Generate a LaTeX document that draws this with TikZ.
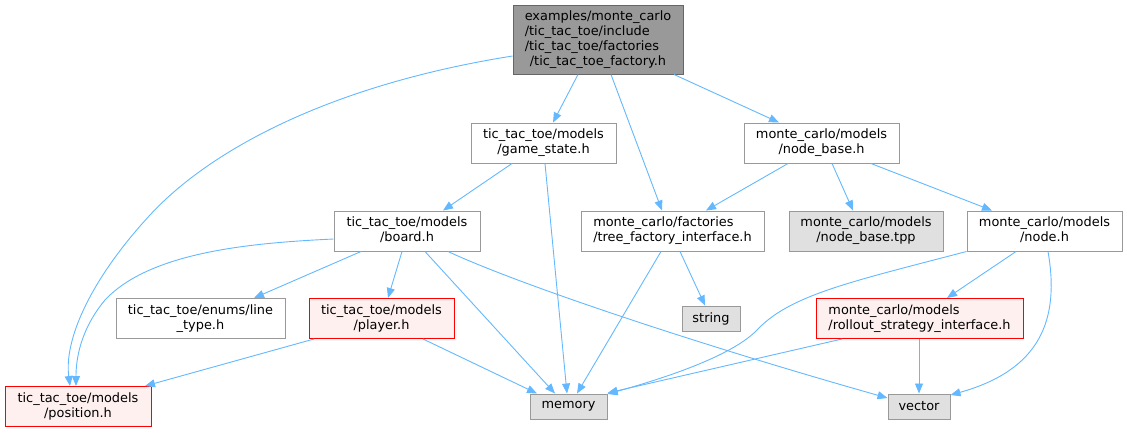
\documentclass[tikz,border=0pt]{standalone}
\usepackage{fontspec}
\setmainfont{DejaVu Sans}
\usetikzlibrary{arrows.meta}
\definecolor{edgec}{HTML}{63B8FF}
\definecolor{bord}{HTML}{999999}
\definecolor{topfill}{HTML}{999999}
\definecolor{topbord}{HTML}{666666}
\definecolor{extfill}{HTML}{E0E0E0}
\definecolor{redfill}{HTML}{FFF0F0}
\newcommand\twol[2]{\begin{tabular}{@{}l@{}}#1\\\multicolumn{1}{@{}c@{}}{#2}\end{tabular}}
\begin{document}
\begin{tikzpicture}[x=1pt,y=-1pt,
  box/.style={draw=bord, line width=1pt, fill=white, inner sep=0pt, font=\fontsize{12.9}{15}\selectfont, text=black},
  topbox/.style={box, draw=topbord, fill=topfill},
  extbox/.style={box, fill=extfill},
  redbox/.style={box, draw=red, fill=redfill},
  edge/.style={draw=edgec, line width=0.9pt, -{Triangle[length=10pt,width=8pt,fill=edgec]}}
]
\useasboundingbox (0,0) rectangle (1127,432);

\node[topbox, minimum width=170pt, minimum height=69pt] (top) at (598,39.5)
  {\begin{tabular}{@{}l@{}}examples/monte\_carlo\\/tic\_tac\_toe/include\\/tic\_tac\_toe/factories\\\multicolumn{1}{@{}c@{}}{/tic\_tac\_toe\_factory.h}\end{tabular}};
\node[box, minimum width=145pt, minimum height=40pt] (gs) at (543.5,143) {\twol{tic\_tac\_toe/models}{/game\_state.h}};
\node[box, minimum width=155pt, minimum height=40pt] (nb) at (821.5,143) {\twol{monte\_carlo/models}{/node\_base.h}};
\node[box, minimum width=146pt, minimum height=40pt] (bd) at (407,231) {\twol{tic\_tac\_toe/models}{/board.h}};
\node[box, minimum width=183pt, minimum height=40pt] (tf) at (672.5,231) {\twol{monte\_carlo/factories}{/tree\_factory\_interface.h}};
\node[extbox, minimum width=154pt, minimum height=40pt] (tpp) at (866,231) {\twol{monte\_carlo/models}{/node\_base.tpp}};
\node[box, minimum width=155pt, minimum height=40pt] (nd) at (1044.5,231) {\twol{monte\_carlo/models}{/node.h}};
\node[box, minimum width=169pt, minimum height=40pt] (lt) at (200.5,318.5) {\twol{tic\_tac\_toe/enums/line}{\_type.h}};
\node[redbox, minimum width=145pt, minimum height=40pt] (pl) at (381.5,318.5) {\twol{tic\_tac\_toe/models}{/player.h}};
\node[extbox, minimum width=58pt, minimum height=25pt] (st) at (711,318.5) {string};
\node[redbox, minimum width=207pt, minimum height=40pt] (ro) at (919.5,318.5) {\twol{monte\_carlo/models}{/rollout\_strategy\_interface.h}};
\node[redbox, minimum width=146pt, minimum height=40pt] (po) at (78,406.5) {\twol{tic\_tac\_toe/models}{/position.h}};
\node[extbox, minimum width=77pt, minimum height=25pt] (me) at (568.5,406.5) {memory};
\node[extbox, minimum width=62pt, minimum height=25pt] (ve) at (919,406.5) {vector};

% edges from top
\draw[edge] ([xshift=-20pt]top.south) -- ([xshift=9.5pt]gs.north);
\draw[edge] ([xshift=13pt]top.south) -- ([xshift=-10.5pt]tf.north);
\draw[edge] ([xshift=76pt]top.south) -- ([xshift=-42.5pt]nb.north);
\draw[edge] ([yshift=-16.5pt]top.west) .. controls (330,85) and (210,150) .. (150,215)
   .. controls (90,280) and (64,340) .. ([xshift=-8pt]po.north);
% game_state
\draw[edge] ([xshift=-31.5pt]gs.south) -- ([xshift=36pt]bd.north);
\draw[edge] ([xshift=1.5pt]gs.south) -- ([xshift=-1.5pt]me.north);
% node_base
\draw[edge] ([xshift=-33.5pt]nb.south) -- ([xshift=33.5pt]tf.north);
\draw[edge] ([xshift=10.5pt]nb.south) -- ([xshift=-13pt]tpp.north);
\draw[edge] ([xshift=49.5pt]nb.south) -- ([xshift=-52.5pt]nd.north);
% board
\draw[edge] ([yshift=-8pt]bd.west) .. controls (250,243) and (150,252) .. (105,300)
   .. controls (80,330) and (76,360) .. ([xshift=-2pt]po.north);
\draw[edge] ([xshift=-46pt]bd.south) -- ([xshift=53.5pt]lt.north);
\draw[edge] ([xshift=-5pt]bd.south) -- ([xshift=6.5pt]pl.north);
\draw[edge] ([xshift=18pt]bd.south) -- ([xshift=-13.5pt]me.north);
\draw[edge] ([xshift=41pt]bd.south) .. controls (520,285) and (700,345) .. ([yshift=8.5pt]ve.west);
% player
\draw[edge] ([xshift=-67.5pt]pl.south) -- ([xshift=67pt]po.north);
\draw[edge] ([xshift=41.5pt]pl.south) -- ([xshift=-31.5pt]me.north);
% tree factory
\draw[edge] ([xshift=-11.5pt]tf.south) -- ([xshift=8.5pt]me.north);
\draw[edge] ([xshift=7.5pt]tf.south) -- ([xshift=-6pt]st.north);
% node.h
\draw[edge] (nd.south west) .. controls (850,282) and (790,295) .. (757,330)
   .. controls (732,356) and (665,378) .. ([yshift=-0.5pt]me.north east);
\draw[edge] ([xshift=-28.5pt]nd.south) -- ([xshift=27.5pt]ro.north);
\draw[edge] ([xshift=3.5pt]nd.south) .. controls (1060,320) and (1040,370) .. ([yshift=-1.5pt]ve.north east);
% rollout
\draw[edge] ([xshift=-77.5pt]ro.south) -- ([yshift=0.5pt]me.north east);
\draw[edge] ([xshift=-0.5pt]ro.south) -- ([xshift=-0pt]ve.north);
\end{tikzpicture}
\end{document}
